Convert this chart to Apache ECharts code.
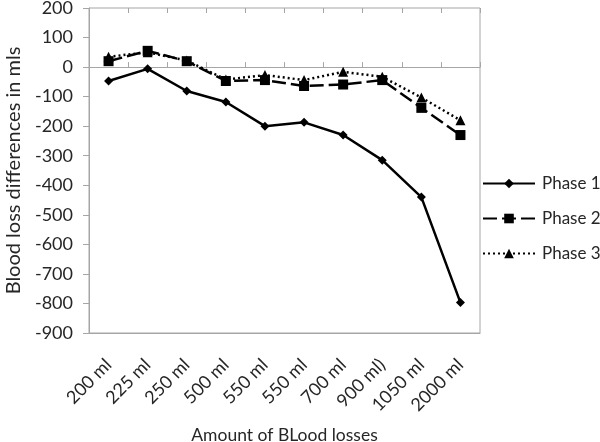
<!DOCTYPE html>
<html><head><meta charset="utf-8">
<script src="https://cdn.jsdelivr.net/npm/echarts@6/dist/echarts.min.js"></script>
<style>html,body{margin:0;padding:0;background:#fff}#c{width:600px;height:442px}</style>
</head><body><div id="c"></div>
<script>
const categories = ['200 ml','225 ml','250 ml','500 ml','550 ml','550 ml','700 ml','900 ml)','1050 ml','2000 ml'];
const phase1 = [-47, -6, -81, -118, -200, -187, -230, -315, -440, -797];
const phase2 = [20, 55, 20, -47, -44, -64, -59, -44, -138, -230];
const phase3 = [35, 50, 22, -42, -27, -44, -16, -33, -103, -180];
const yTicks = {min: -900, max: 200, interval: 100};

const FONT = 'Lato';
const chart = echarts.init(document.getElementById('c'), null, {renderer: 'canvas'});
const gray = '#a6a6a6';
const txt = '#262626';
function catAxis(extra) {
  return Object.assign({
    type: 'category', data: categories, boundaryGap: true,
    axisLine: {show: false}, axisTick: {show: false}, axisLabel: {show: false},
    splitLine: {show: false}
  }, extra);
}
chart.setOption({
  animation: false,
  textStyle: {fontFamily: FONT},
  grid: {left: 89, right: 120, top: 8, bottom: 109, show: true, borderColor: gray, borderWidth: 1,
         containLabel: false, outerBoundsMode: 'none'},
  legend: {
    orient: 'vertical', left: 482, top: 175, padding: 0, itemWidth: 52, itemHeight: 12, itemGap: 18,
    textStyle: {fontFamily: FONT, fontSize: 17, color: txt, padding: [0,0,0,2]},
    data: ['Phase 1','Phase 2','Phase 3']
  },
  xAxis: [
    catAxis({
      position: 'bottom', axisLine: {show: true, onZero: false, lineStyle: {color: gray}},
      axisLabel: {show: true, rotate: 45, fontSize: 18, color: txt, margin: 29, fontFamily: FONT, interval: 0},
      name: 'Amount of BLood losses', nameLocation: 'middle', nameGap: 93,
      nameTextStyle: {fontSize: 17.5, color: txt, fontFamily: FONT}
    }),
    catAxis({
      axisLine: {show: true, onZero: true, lineStyle: {color: gray}},
      axisTick: {show: true, inside: false, length: 5, lineStyle: {color: gray}, interval: 0}
    }),
    catAxis({
      axisLine: {show: false, onZero: true},
      axisTick: {show: true, inside: true, length: 5, lineStyle: {color: gray}, interval: 0}
    })
  ],
  yAxis: {
    type: 'value', min: yTicks.min, max: yTicks.max, interval: yTicks.interval,
    axisLine: {show: true, lineStyle: {color: gray}},
    axisTick: {show: true, length: 6, lineStyle: {color: gray}},
    splitLine: {show: false},
    axisLabel: {fontSize: 18, color: txt, margin: 16, fontFamily: FONT},
    name: 'Blood loss differences in mls', nameLocation: 'middle', nameGap: 65, nameRotate: 90,
    nameTextStyle: {fontSize: 20, color: txt, fontFamily: FONT}
  },
  series: [
    {name: 'Phase 1', type: 'line', data: phase1, symbol: 'diamond', symbolSize: 9,
     lineStyle: {color: '#000', width: 2.5}, itemStyle: {color: '#000'}},
    {name: 'Phase 2', type: 'line', data: phase2, symbol: 'rect', symbolSize: 10,
     lineStyle: {color: '#000', width: 2.5, type: [14, 5]}, itemStyle: {color: '#000'}},
    {name: 'Phase 3', type: 'line', data: phase3, symbol: 'triangle', symbolSize: 10,
     lineStyle: {color: '#000', width: 2.5, type: [2, 3]}, itemStyle: {color: '#000'}}
  ]
});
</script></body></html>
